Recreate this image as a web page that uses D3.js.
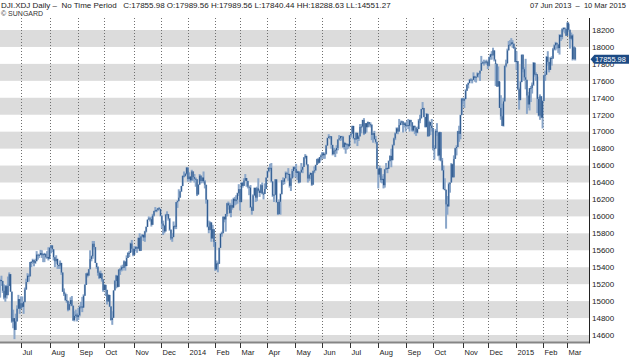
<!DOCTYPE html>
<html><head><meta charset="utf-8">
<script src="https://cdn.jsdelivr.net/npm/d3@7"></script>
<style>
html,body{margin:0;padding:0;background:#fff;}
svg{display:block;font-family:"Liberation Sans",Arial,sans-serif;}
</style></head><body>
<svg id="chart" width="630" height="358"></svg>
<script>
// ---- data ----
const monthLabels = ["Jun","Jul","Aug","Sep","Oct","Nov","Dec","2014","Feb","Mar","Apr","May","Jun","Jul","Aug","Sep","Oct","Nov","Dec","2015","Feb","Mar"];
const monthDays   = [16,22,22,20,23,20,21,21,19,21,21,21,21,22,21,21,23,19,22,20,19,7];
const yTicks = [14600,14800,15000,15200,15400,15600,15800,16000,16200,16400,16600,16800,17000,17200,17400,17600,17800,18000,18200];
const headerTitle = "DJI.XDJ Daily –  No Time Period";
const headerFields = ["C:17855.98","O:17989.56","H:17989.56","L:17840.44","HH:18288.63","LL:14551.27"];
const dateRange = ["07 Jun 2013","10 Mar 2015"];
const credit = "© SUNGARD";

const closes = [
15248,15239,15122,15041,15176,15070,15180,15318,15112,14758,14799,14660,14760,14910,15024,14910,
14975,14932,14989,15136,15225,15300,15292,15461,15464,15484,15452,15471,15549,15544,15546,15568,15542,15556,15559,15522,15521,15500,
15628,15658,15612,15519,15471,15498,15426,15420,15451,15338,15112,15081,15011,15003,14898,14964,15011,14946,14776,14825,14841,14810,
14834,14931,14937,14923,15063,15191,15327,15301,15376,15495,15530,15677,15637,15451,15401,15335,15273,15328,15258,15130,
15192,15133,14996,15073,14936,14777,14803,15126,15237,15301,15168,15374,15372,15400,15392,15468,15413,15509,15570,15569,15680,15618,15546,
15616,15639,15619,15747,15594,15762,15783,15751,15822,15876,15962,15976,15967,15901,16010,16065,16073,16073,16097,16086,
16009,15915,15890,15822,16020,16026,15973,15844,15739,15755,15885,15875,16168,16179,16221,16295,16358,16480,16478,16504,16577,
16441,16470,16425,16531,16463,16445,16437,16258,16374,16482,16417,16459,16414,16373,16197,15879,15838,15929,15739,15849,15699,
15373,15445,15440,15629,15794,15802,15995,15964,16028,16154,16130,16041,16133,16103,16207,16180,16198,16273,16322,
16168,16396,16360,16422,16453,16419,16351,16340,16109,16066,16247,16336,16222,16331,16303,16277,16368,16269,16264,16323,16458,
16533,16573,16573,16413,16246,16256,16437,16170,16027,16173,16263,16425,16409,16449,16514,16502,16502,16361,16449,16535,16581,
16559,16513,16531,16401,16519,16551,16583,16695,16715,16614,16447,16491,16512,16374,16533,16543,16606,16676,16633,16699,16717,
16744,16722,16738,16836,16924,16943,16946,16844,16734,16776,16781,16808,16907,16921,16947,16937,16818,16868,16846,16852,16827,
16956,16976,17068,16924,16907,16986,16915,16944,17055,17061,17138,16977,17100,17052,17114,17087,17084,16961,16983,16912,16880,16563,
16493,16569,16429,16443,16368,16554,16570,16561,16652,16714,16663,16839,16920,16979,17039,17001,17077,17107,17122,17080,17098,
17068,17078,17070,17137,17111,17014,17069,17049,16988,17031,17132,17157,17266,17280,17173,17056,17210,16946,17113,17071,17043,
16805,16801,17010,16992,16719,16994,16659,16544,16321,16315,16142,16117,16380,16400,16615,16461,16678,16805,16818,17006,16974,17195,17391,
17366,17384,17485,17554,17574,17614,17615,17612,17653,17635,17648,17688,17686,17719,17810,17818,17815,17828,17828,
17777,17880,17913,17900,17959,17852,17801,17533,17596,17281,17181,17069,17357,17778,17805,17959,18024,18030,18054,18038,17983,17823,
17833,17502,17372,17585,17908,17737,17641,17614,17427,17321,17512,17515,17554,17814,17673,17679,17387,17191,17417,17165,
17361,17666,17673,17885,17824,17729,17869,17862,17972,18019,18048,18030,17986,18140,18117,18209,18225,18214,18133,
18289,18203,18097,18136,17857,17996,17855.98
];
const highs = [
15263,15300,15238,15198,15190,15195,15290,15339,15320,15112,14900,14799,14852,14950,15074,15024,
15055,15055,15000,15160,15265,15330,15320,15462,15470,15500,15484,15500,15590,15550,15560,15605,15600,15560,15570,15555,15590,15635,
15640,15660,15658,15612,15519,15541,15500,15430,15480,15451,15338,15150,15100,15083,15005,14990,15045,15060,14946,14880,14900,14860,
14920,14950,14990,15050,15080,15200,15330,15340,15380,15600,15540,15710,15709,15640,15451,15410,15350,15360,15328,15258,
15200,15192,15133,15080,15073,14940,14880,15126,15250,15310,15300,15374,15390,15420,15430,15480,15468,15540,15575,15590,15690,15722,15620,
15650,15650,15640,15750,15800,15770,15790,15783,15830,15880,15962,16000,15990,16000,16030,16065,16110,16090,16100,16110,
16090,16010,15950,15900,16030,16060,16026,15980,15844,15800,15940,15900,16170,16190,16320,16300,16360,16480,16530,16510,16580,
16577,16520,16475,16550,16531,16500,16460,16440,16380,16500,16482,16460,16530,16430,16373,16197,15950,15940,15929,15900,15849,
15700,15480,15460,15630,15800,15820,16000,16000,16030,16160,16175,16160,16150,16200,16220,16230,16250,16280,16380,
16320,16400,16406,16450,16500,16453,16419,16351,16370,16120,16260,16340,16340,16350,16450,16320,16380,16400,16290,16390,16460,
16540,16580,16620,16630,16413,16260,16440,16437,16170,16200,16270,16430,16460,16450,16530,16520,16570,16502,16460,16560,16590,
16590,16620,16540,16531,16530,16630,16590,16700,16735,16715,16614,16500,16520,16512,16540,16590,16610,16680,16690,16700,16730,
16760,16760,16745,16845,16930,16970,16950,16946,16844,16810,16800,16840,16910,16960,16950,16950,16950,16880,16860,16860,16860,
16960,16980,17070,17068,16924,16990,16986,16960,17090,17090,17140,17160,17100,17100,17120,17114,17110,17084,16990,17010,16950,16880,
16570,16600,16569,16480,16500,16560,16630,16580,16660,16720,16800,16850,16930,16990,17050,17050,17150,17130,17130,17122,17110,
17110,17130,17150,17140,17140,17111,17070,17070,17049,17060,17150,17200,17270,17350,17280,17173,17220,17210,17130,17113,17150,
17043,16840,17030,17100,16992,17000,16994,16690,16600,16450,16315,16240,16400,16400,16630,16620,16720,16810,16840,17010,17070,17200,17395,
17400,17400,17500,17560,17580,17620,17630,17615,17700,17660,17650,17700,17690,17720,17894,17830,17850,17840,17850,
17828,17885,17920,17950,17991,17959,17810,17800,17770,17590,17430,17330,17400,17780,17850,17980,18070,18080,18104,18080,18040,18000,
17950,17833,17520,17600,17910,17910,17760,17860,17610,17470,17515,17540,17580,17820,17814,17700,17650,17410,17440,17420,
17370,17670,17720,17890,17950,17820,17880,17890,17990,18030,18060,18050,18030,18150,18150,18220,18230,18230,18214,
18289,18270,18203,18170,18150,18010,17990
];
const lows = [
15041,15180,15097,15021,14993,15030,15070,15178,15110,14744,14680,14551,14660,14760,14910,14850,
14910,14920,14850,14985,15136,15225,15230,15292,15400,15440,15410,15440,15470,15490,15510,15540,15510,15460,15460,15505,15500,15480,
15500,15565,15580,15480,15400,15440,15380,15380,15380,15310,15108,15060,15005,14980,14880,14890,14940,14940,14765,14760,14800,14760,
14777,14820,14910,14870,14923,15063,15190,15280,15300,15376,15470,15500,15610,15450,15380,15300,15260,15270,15230,15110,
15130,15060,14960,14990,14930,14770,14720,14803,15126,15150,15160,15168,15310,15350,15360,15390,15360,15413,15509,15520,15569,15580,15530,
15546,15590,15570,15619,15590,15594,15750,15710,15700,15810,15876,15960,15940,15880,15900,16000,16050,16050,16070,16070,
16000,15860,15780,15800,15822,16000,15950,15830,15720,15700,15755,15850,15850,16100,16179,16221,16290,16358,16460,16470,16490,
16410,16420,16400,16425,16420,16400,16350,16240,16258,16374,16390,16400,16390,16330,16150,15870,15800,15838,15700,15739,15640,
15356,15373,15340,15440,15629,15760,15800,15930,15820,16000,16080,16030,15990,16080,16103,16130,16140,16150,16240,
16070,16168,16340,16360,16420,16350,16330,16250,16100,16020,16066,16247,16170,16180,16280,16230,16277,16260,16200,16264,16323,
16458,16520,16540,16400,16230,16170,16250,16160,16015,16027,16020,16260,16370,16380,16449,16490,16420,16340,16300,16449,16460,
16540,16460,16430,16390,16400,16519,16510,16583,16680,16600,16400,16420,16440,16360,16374,16510,16540,16606,16620,16633,16660,
16680,16680,16680,16730,16836,16924,16910,16800,16720,16734,16700,16740,16780,16900,16890,16900,16810,16790,16740,16790,16800,
16827,16930,16976,16910,16860,16907,16830,16890,16944,16980,17050,16960,16977,16990,17052,17060,17050,16900,16870,16900,16860,16560,
16330,16460,16400,16390,16330,16340,16554,16510,16561,16650,16580,16663,16839,16900,16979,16970,17001,17077,17080,16990,17050,
17000,17060,17030,17000,17060,17000,17000,16970,16950,16980,17030,17100,17157,17260,17170,17050,17050,16940,16946,16960,17000,
16780,16670,16801,16950,16710,16660,16650,16540,16320,16310,15855,16020,16117,16280,16400,16460,16461,16678,16720,16818,16880,16910,17196,
17330,17280,17384,17480,17510,17570,17600,17570,17610,17590,17580,17640,17640,17600,17719,17800,17780,17800,17790,
17740,17770,17850,17850,17900,17830,17540,17530,17530,17280,17140,17067,17060,17357,17760,17805,17960,18010,18030,17990,17980,17820,
17730,17490,17260,17372,17585,17700,17600,17500,17210,17280,17250,17350,17450,17540,17650,17600,17220,17180,17140,17160,
17038,17361,17600,17670,17780,17700,17729,17780,17862,17960,17960,17980,17930,17910,18070,18090,18180,18160,18130,
18130,18180,17980,18080,17840,17850,17840
];

// ---- layout ----
const plot = {left: 0, right: 589, top: 18, bottom: 342};
const svg = d3.select("#chart");

const x = d3.scaleLinear().domain([-0.1, closes.length + 9.6]).range([plot.left, plot.right]);
const y = d3.scaleLinear().domain([14600, 18200]).range([335, 30]);

svg.append("defs").append("clipPath").attr("id","clip")
  .append("rect").attr("x",plot.left).attr("y",plot.top)
  .attr("width",plot.right-plot.left).attr("height",plot.bottom-plot.top);

const g = svg.append("g").attr("clip-path","url(#clip)");

// alternating bands
const bandStarts = d3.range(14400, 18600, 400);
g.selectAll("rect.band").data(bandStarts).join("rect")
  .attr("class","band")
  .attr("x", plot.left).attr("width", plot.right - plot.left)
  .attr("y", d => y(d + 200)).attr("height", d => y(d) - y(d + 200))
  .attr("fill", "#dcdcdc");

// month starts
const starts = [];
let acc = 0;
monthDays.forEach((n, k) => { starts.push({idx: acc, label: monthLabels[k], k}); acc += n; });
const ticks = starts.filter(d => d.k > 0);

g.selectAll("line.grid").data(ticks).join("line")
  .attr("x1", d => Math.round(x(d.idx)) + 0.5).attr("x2", d => Math.round(x(d.idx)) + 0.5)
  .attr("y1", plot.top).attr("y2", plot.bottom)
  .attr("stroke", "#6f6f6f").attr("stroke-width", 1).attr("stroke-dasharray", "1,2");

// wicks (high-low)
const idx = d3.range(closes.length);
g.selectAll("rect.wick").data(idx).join("rect")
  .attr("x", i => x(i) - 1).attr("width", 2)
  .attr("y", i => y(highs[i])).attr("height", i => Math.max(1, y(lows[i]) - y(highs[i])))
  .attr("fill", "#8aa6c9");

// bodies (previous close -> close)
g.selectAll("rect.body").data(idx).join("rect")
  .attr("x", i => x(i) - 0.5).attr("width", 1)
  .attr("y", i => y(Math.max(closes[i], i ? closes[i-1] : closes[i])))
  .attr("height", i => Math.max(1, Math.abs(y(closes[i]) - y(i ? closes[i-1] : closes[i]))))
  .attr("fill", "#2e5a8f");

// x axis
svg.append("line").attr("x1", plot.left).attr("x2", plot.right)
  .attr("y1", plot.bottom + 0.5).attr("y2", plot.bottom + 0.5)
  .attr("stroke", "#858585").attr("stroke-width", 2);
svg.selectAll("line.xt").data(ticks).join("line")
  .attr("x1", d => Math.round(x(d.idx)) + 0.5).attr("x2", d => Math.round(x(d.idx)) + 0.5)
  .attr("y1", plot.bottom + 1).attr("y2", plot.bottom + 6)
  .attr("stroke", "#333");
svg.selectAll("text.xl").data(ticks).join("text")
  .attr("x", d => Math.round(x(d.idx)) + 1.5).attr("y", 355)
  .attr("font-size", 7.5).attr("fill", "#222")
  .text(d => d.label);

// y axis
svg.append("line").attr("x1", plot.right + 0.5).attr("x2", plot.right + 0.5)
  .attr("y1", plot.top).attr("y2", plot.bottom + 1.5)
  .attr("stroke", "#222");
svg.selectAll("text.yl").data(yTicks).join("text")
  .attr("x", plot.right + 3).attr("y", d => y(d)).attr("dy", "0.35em")
  .attr("font-size", 8).attr("fill", "#222")
  .text(d => d);

// last price marker
const lastV = closes[closes.length - 1];
const ly = y(lastV);
svg.append("path")
  .attr("d", `M${plot.right+1.5},${ly} L${plot.right+5.5},${ly-4.5} L629,${ly-4.5} L629,${ly+4.5} L${plot.right+5.5},${ly+4.5} Z`)
  .attr("fill", "#1c4a84");
svg.append("text").attr("x", plot.right + 6).attr("y", ly).attr("dy", "0.35em")
  .attr("font-size", 7.4).attr("fill", "#fff").text(lastV.toFixed(2));

// header
svg.append("text").attr("x", 1).attr("y", 8).attr("font-size", 8).attr("fill", "#222")
  .style("white-space", "pre")
  .text(headerTitle + "   " + headerFields.join(" "));
svg.append("text").attr("x", 1).attr("y", 16).attr("font-size", 7).attr("fill", "#333")
  .text(credit);
svg.append("text").attr("x", 626).attr("y", 8).attr("font-size", 7.5).attr("fill", "#222")
  .attr("text-anchor", "end").style("white-space", "pre")
  .text(dateRange[0] + "  –  " + dateRange[1]);
</script>
</body></html>
